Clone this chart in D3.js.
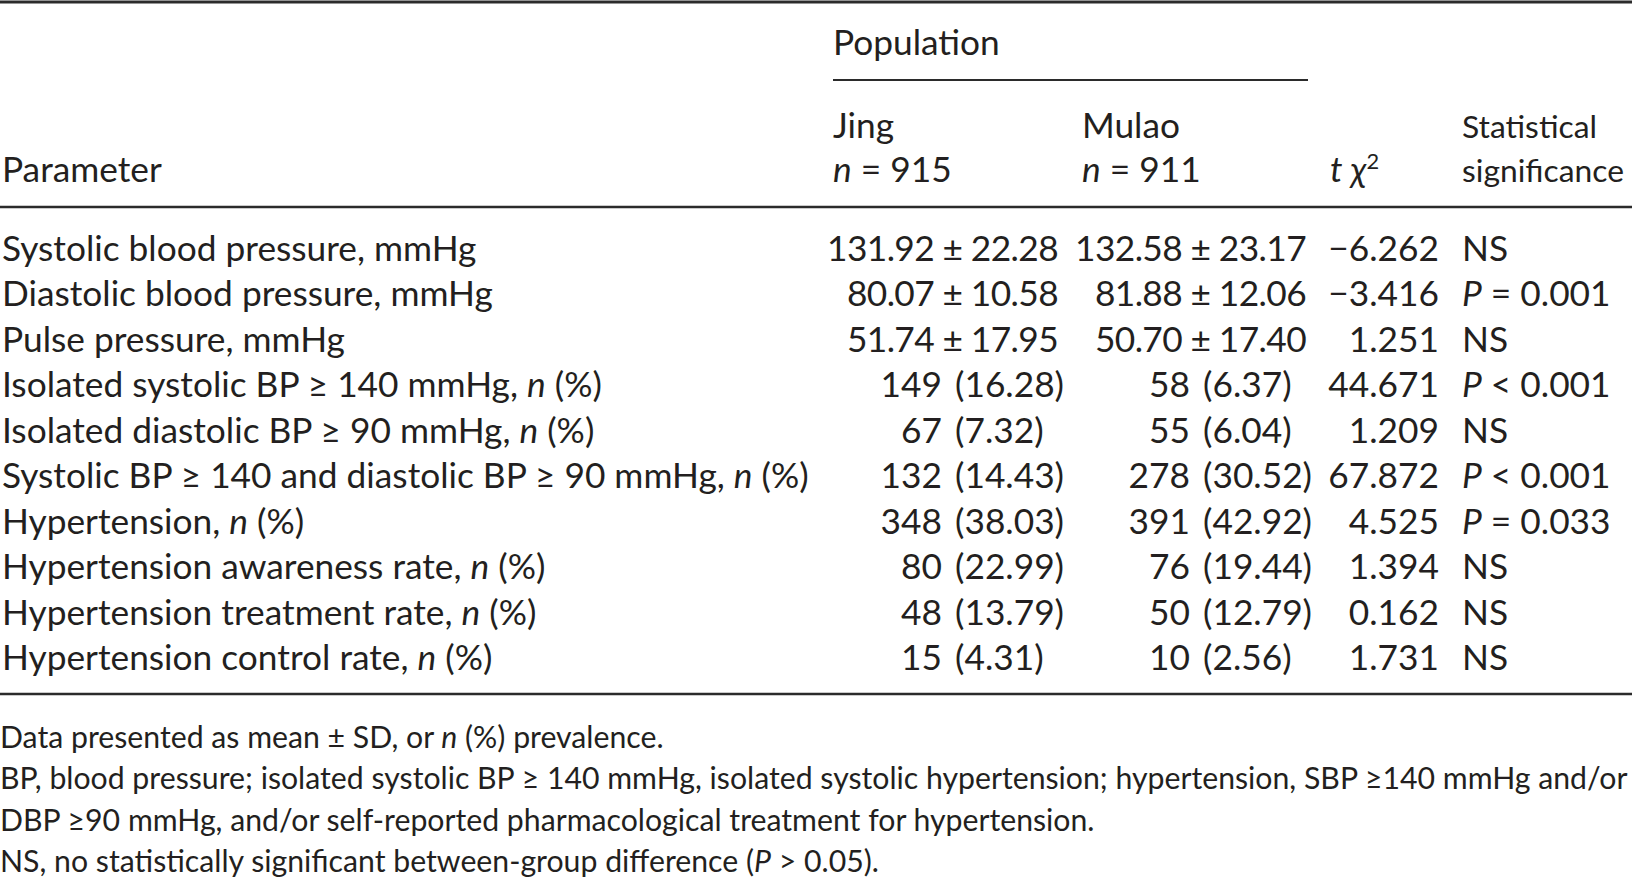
<!DOCTYPE html>
<html>
<head>
<meta charset="utf-8">
<script src="https://cdn.jsdelivr.net/npm/d3@7"></script>
<style>
body { margin: 0; background: #fff; }
svg text { font-family: Lato, "Open Sans", sans-serif; fill: #231f20; white-space: pre; }
</style>
</head>
<body>
<div id="table"></div>
<script>
var rowLabels = [
	"Systolic blood pressure, mmHg",
	"Diastolic blood pressure, mmHg",
	"Pulse pressure, mmHg",
	"Isolated systolic BP \u2265 140 mmHg, n (%)",
	"Isolated diastolic BP \u2265 90 mmHg, n (%)",
	"Systolic BP \u2265 140 and diastolic BP \u2265 90 mmHg, n (%)",
	"Hypertension, n (%)",
	"Hypertension awareness rate, n (%)",
	"Hypertension treatment rate, n (%)",
	"Hypertension control rate, n (%)"
];
var rowKinds = ["mean", "mean", "mean", "count", "count", "count", "count", "count", "count", "count"];
var jingStats = [[131.92, 22.28], [80.07, 10.58], [51.74, 17.95], [149, 16.28], [67, 7.32],
	[132, 14.43], [348, 38.03], [80, 22.99], [48, 13.79], [15, 4.31]];
var mulaoStats = [[132.58, 23.17], [81.88, 12.06], [50.70, 17.40], [58, 6.37], [55, 6.04],
	[278, 30.52], [391, 42.92], [76, 19.44], [50, 12.79], [10, 2.56]];
var testStats = [-6.262, -3.416, 1.251, 44.671, 1.209, 67.872, 4.525, 1.394, 0.162, 1.731];
var significance = ["NS", "P = 0.001", "NS", "P < 0.001", "NS", "P < 0.001", "P = 0.033", "NS", "NS", "NS"];
var populations = ["Jing", "Mulao"];
var populationSizes = [915, 911];
var footnotes = [
	"Data presented as mean \u00b1 SD, or n (%) prevalence.",
	"BP, blood pressure; isolated systolic BP \u2265 140 mmHg, isolated systolic hypertension; hypertension, SBP \u2265140 mmHg and/or",
	"DBP \u226590 mmHg, and/or self-reported pharmacological treatment for hypertension.",
	"NS, no statistically significant between-group difference (P > 0.05)."
];

var W = 1632, H = 881;
var fmt2 = d3.format(".2f"), fmt3 = d3.format(".3f");

var svg = d3.select("#table").append("svg").attr("width", W).attr("height", H);

// find a font size so that a text spans a given width
function fitSize(str, target) {
	var t = svg.append("text").style("font-size", "100px").text(str);
	var w = t.node().getComputedTextLength();
	t.remove();
	return 100 * target / w;
}

function richText(parent, str, x, y, anchor, size) {
	var t = parent.append("text").attr("x", x).attr("y", y)
		.attr("text-anchor", anchor).style("font-size", size + "px");
	str.split(/(\bn\b|\bP\b)/).forEach(function(part) {
		if (!part) return;
		var span = t.append("tspan").text(part);
		if (part === "n" || part === "P") span.style("font-style", "italic");
	});
	return t;
}

function rule(y1, x1, x2, w) {
	svg.append("line").attr("x1", x1).attr("x2", x2).attr("y1", y1).attr("y2", y1)
		.attr("stroke", "#2b2b2b").attr("stroke-width", w);
}

var bodySize = fitSize(rowLabels[5], 808);
var noteSize = fitSize(footnotes[1], 1628);
var sigHeadSize = Math.min(bodySize, fitSize("significance", 162));

var col = { label: 2, jing: 833, mulao: 1082, jingRight: 1058, mulaoRight: 1306,
	jingParen: 955, mulaoParen: 1203, tRight: 1439, tLabel: 1330, sig: 1462 };

var rowY = d3.scaleLinear().domain([0, rowLabels.length - 1]).range([260.5, 670]);

// rules
rule(2, 0, W, 3);
rule(80, col.jing, 1308, 2);
rule(207, 0, W, 2.5);
rule(694, 0, W, 2.5);

// header
svg.append("text").attr("x", col.jing).attr("y", 55).style("font-size", bodySize + "px").text("Population");
svg.append("text").attr("x", col.label).attr("y", 182).style("font-size", bodySize + "px").text("Parameter");
[col.jing, col.mulao].forEach(function(x, i) {
	svg.append("text").attr("x", x).attr("y", 138).style("font-size", bodySize + "px").text(populations[i]);
	richText(svg, "n = " + populationSizes[i], x, 182, "start", bodySize);
});
var tl = svg.append("text").attr("x", col.tLabel).attr("y", 182).style("font-size", bodySize + "px");
tl.append("tspan").style("font-style", "italic").text("t \u03c7");
tl.append("tspan").attr("dy", -13).style("font-size", (bodySize * 0.62) + "px").text("2");
svg.append("text").attr("x", col.sig).attr("y", 138).style("font-size", sigHeadSize + "px").text("Statistical");
svg.append("text").attr("x", col.sig).attr("y", 182).style("font-size", sigHeadSize + "px").text("significance");

// body rows
function drawValue(stat, kind, y, right, paren) {
	if (kind === "mean") {
		svg.append("text").attr("x", right).attr("y", y).attr("text-anchor", "end")
			.style("font-size", bodySize + "px").style("letter-spacing", "-0.6px")
			.text(fmt2(stat[0]) + " \u00b1 " + fmt2(stat[1]));
	} else {
		svg.append("text").attr("x", paren - 13).attr("y", y).attr("text-anchor", "end")
			.style("font-size", bodySize + "px").text(stat[0]);
		svg.append("text").attr("x", paren).attr("y", y)
			.style("font-size", bodySize + "px").text("(" + fmt2(stat[1]) + ")");
	}
}

rowLabels.forEach(function(label, i) {
	var y = rowY(i);
	richText(svg, label, col.label, y, "start", bodySize);
	drawValue(jingStats[i], rowKinds[i], y, col.jingRight, col.jingParen);
	drawValue(mulaoStats[i], rowKinds[i], y, col.mulaoRight, col.mulaoParen);
	svg.append("text").attr("x", col.tRight).attr("y", y).attr("text-anchor", "end")
		.style("font-size", bodySize + "px").text(fmt3(testStats[i]));
	richText(svg, significance[i], col.sig, y, "start", bodySize);
});

// footnotes
var noteY = d3.scaleLinear().domain([0, footnotes.length - 1]).range([748, 872]);
footnotes.forEach(function(note, i) {
	richText(svg, note, 0, noteY(i), "start", noteSize);
});
</script>
</body>
</html>
